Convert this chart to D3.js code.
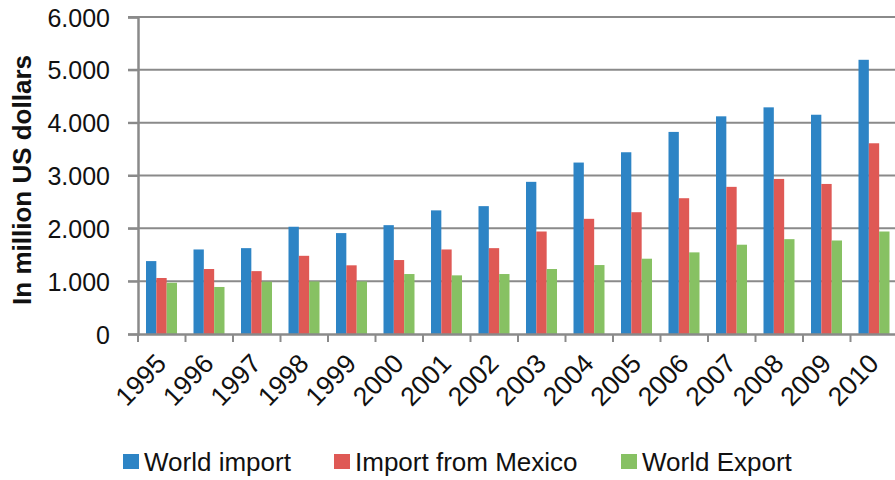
<!DOCTYPE html>
<html>
<head>
<meta charset="utf-8">
<script src="https://cdn.jsdelivr.net/npm/d3@7"></script>
<style>
  body { margin: 0; background: #fff; }
  text { font-family: "Liberation Sans", Arial, sans-serif; fill: #111; }
</style>
</head>
<body>
<div id="chart"></div>
<script>
// data
const years = ['1995','1996','1997','1998','1999','2000','2001','2002','2003','2004','2005','2006','2007','2008','2009','2010'];
const worldImport = [1380, 1600, 1625, 2030, 1910, 2060, 2340, 2420, 2880, 3245, 3440, 3825, 4120, 4290, 4150, 5190];
const importMexico = [1060, 1230, 1190, 1480, 1300, 1400, 1600, 1625, 1940, 2180, 2305, 2570, 2785, 2935, 2840, 3610];
const worldExport = [970, 890, 990, 995, 995, 1135, 1110, 1135, 1230, 1305, 1425, 1545, 1690, 1795, 1770, 1940];
const seriesNames = ['World import', 'Import from Mexico', 'World Export'];
const colors = ['#2d84c5', '#df5955', '#87c163'];
const yTicks = [0, 1000, 2000, 3000, 4000, 5000, 6000];

const W = 895, H = 480;
const margin = { left: 138, top: 17, bottom: 146 };
const plotW = 760;   // runs past the right edge, like the original crop
const plotH = H - margin.top - margin.bottom;

const svg = d3.select('#chart').append('svg')
  .attr('width', W)
  .attr('height', H);

const x = d3.scaleBand().domain(years).range([margin.left, margin.left + plotW]).padding(0);
const xs = d3.scaleBand().domain(seriesNames).range([8, 39]);
const y = d3.scaleLinear().domain([0, 6000]).range([margin.top + plotH, margin.top]);

const fmt = d => d === 0 ? '0' : d3.format(',')(d).replace(',', '.');

// gridlines
svg.append('g')
  .selectAll('line')
  .data(yTicks.filter(d => d > 0))
  .enter().append('line')
  .attr('x1', margin.left - 10)
  .attr('x2', W)
  .attr('y1', d => y(d))
  .attr('y2', d => y(d))
  .style('stroke', '#8a8a8a')
  .style('stroke-width', 2);

// bars
const series = [worldImport, importMexico, worldExport];
series.forEach((vals, s) => {
  svg.append('g')
    .selectAll('rect')
    .data(vals)
    .enter().append('rect')
    .attr('x', (d, i) => x(years[i]) + xs(seriesNames[s]))
    .attr('y', d => y(d))
    .attr('width', xs.bandwidth())
    .attr('height', d => y(0) - y(d))
    .style('fill', colors[s]);
});

// y axis
const yAxis = svg.append('g')
  .attr('transform', `translate(${margin.left},0)`)
  .call(d3.axisLeft(y).tickValues(yTicks).tickFormat(fmt).tickSize(10).tickPadding(18));
yAxis.select('.domain').style('stroke', '#8a8a8a').style('stroke-width', 2.5);
yAxis.selectAll('.tick line').style('stroke', '#8a8a8a').style('stroke-width', 2);
yAxis.selectAll('text').style('font-size', '25px').attr('dy', '0.36em');

// x axis
const xAxis = svg.append('g')
  .attr('transform', `translate(0,${y(0)})`)
  .call(d3.axisBottom(x).tickSize(0).tickFormat(''));
xAxis.select('.domain').style('stroke', '#8a8a8a').style('stroke-width', 2.5);

svg.append('g')
  .selectAll('line')
  .data(years)
  .enter().append('line')
  .attr('x1', d => x(d))
  .attr('x2', d => x(d))
  .attr('y1', y(0))
  .attr('y2', y(0) + 8)
  .style('stroke', '#8a8a8a')
  .style('stroke-width', 2);

svg.append('g')
  .selectAll('text')
  .data(years)
  .enter().append('text')
  .attr('text-anchor', 'end')
  .attr('transform', d => `translate(${x(d) + x.bandwidth() / 2 + 6},${y(0) + 31}) rotate(-46)`)
  .style('font-size', '26.5px')
  .text(d => d);

// y label
svg.append('text')
  .attr('text-anchor', 'middle')
  .attr('transform', `translate(31,${(50 + 310) / 2}) rotate(-90)`)
  .style('font-size', '26px')
  .style('font-weight', 'bold')
  .text('In million US dollars');

// legend
const legendX = [123, 334, 621];
const lg = svg.append('g');
seriesNames.forEach((name, s) => {
  lg.append('rect')
    .attr('x', legendX[s])
    .attr('y', 454)
    .attr('width', 16)
    .attr('height', 15)
    .style('fill', colors[s]);
  lg.append('text')
    .attr('x', legendX[s] + 21)
    .attr('y', 471)
    .style('font-size', '26px')
    .text(name);
});
</script>
</body>
</html>
